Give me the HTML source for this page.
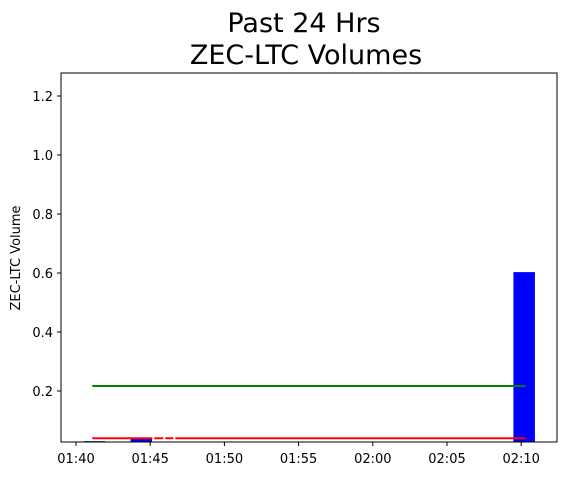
<!DOCTYPE html>
<html><head><meta charset="utf-8"><style>
body{margin:0;background:#fff;}
svg text{font-family:"DejaVu Sans","Liberation Sans",sans-serif;}
</style></head><body>
<svg id="chart" width="570" height="476" xmlns="http://www.w3.org/2000/svg">
<text x="304" y="32" font-size="27" text-anchor="middle">Past 24 Hrs</text>
<text x="306" y="64" font-size="27" text-anchor="middle">ZEC-LTC Volumes</text>
<text transform="translate(20,258) rotate(-90)" font-size="13" text-anchor="middle">ZEC-LTC Volume</text>
<g id="marks"></g>
<rect x="61" y="73" width="496" height="369" fill="none" stroke="#000" stroke-width="1"/>
<g id="axes"></g>
</svg>
<script>
// minutes after 01:40
const barTimes=[1.25,4.4,30.2];
const barValues=[0.03,0.04,0.603];
const barWidthMin=1.45;
const greenLine=[1.1,30.3,0.217];
const redLine=[1.1,30.3,0.04];
const yTicks=[0.2,0.4,0.6,0.8,1.0,1.2];
const xTickMins=[0,5,10,15,20,25,30];
const xTickLabels=["01:40","01:45","01:50","01:55","02:00","02:05","02:10"];
const NS="http://www.w3.org/2000/svg";
const X=m=>76+m*14.84;
const Y=v=>450-v*295;
const marks=document.getElementById('marks'),axes=document.getElementById('axes');
function mk(tag,attrs,parent){const e=document.createElementNS(NS,tag);for(const k in attrs)e.setAttribute(k,attrs[k]);parent.appendChild(e);return e;}
barTimes.forEach((t,i)=>{
 const x0=X(t-barWidthMin/2),x1=X(t+barWidthMin/2),top=Y(barValues[i]);
 const r=mk('rect',{x:x0,y:top,width:x1-x0,height:Math.max(0,442-top),fill:'#0000ff'},marks);
 
 
});
const g=mk('line',{x1:X(greenLine[0]),x2:X(greenLine[1]),y1:Y(greenLine[2]),y2:Y(greenLine[2]),stroke:'#008000','stroke-width':2},marks);


const r=mk('line',{x1:X(redLine[0]),x2:X(redLine[1]),y1:Y(redLine[2]),y2:Y(redLine[2]),stroke:'#ff0000','stroke-width':2,'stroke-dasharray':'60 2 9 2 8 2 500'},marks);


yTicks.forEach(v=>{
 const y=Y(v);
 mk('line',{x1:57,x2:61,y1:y,y2:y,stroke:'#000'},axes);
 const t=mk('text',{x:53,y:y+5,'font-size':13,'text-anchor':'end'},axes);
 t.textContent=v.toFixed(1);
 
 
});
xTickMins.forEach((m,i)=>{
 const x=X(m);
 mk('line',{x1:x,x2:x,y1:442,y2:446,stroke:'#000'},axes);
 const t=mk('text',{x:x,y:463,'font-size':13,'text-anchor':'middle'},axes);
 t.textContent=xTickLabels[i];
 
 
});
</script>
</body></html>
